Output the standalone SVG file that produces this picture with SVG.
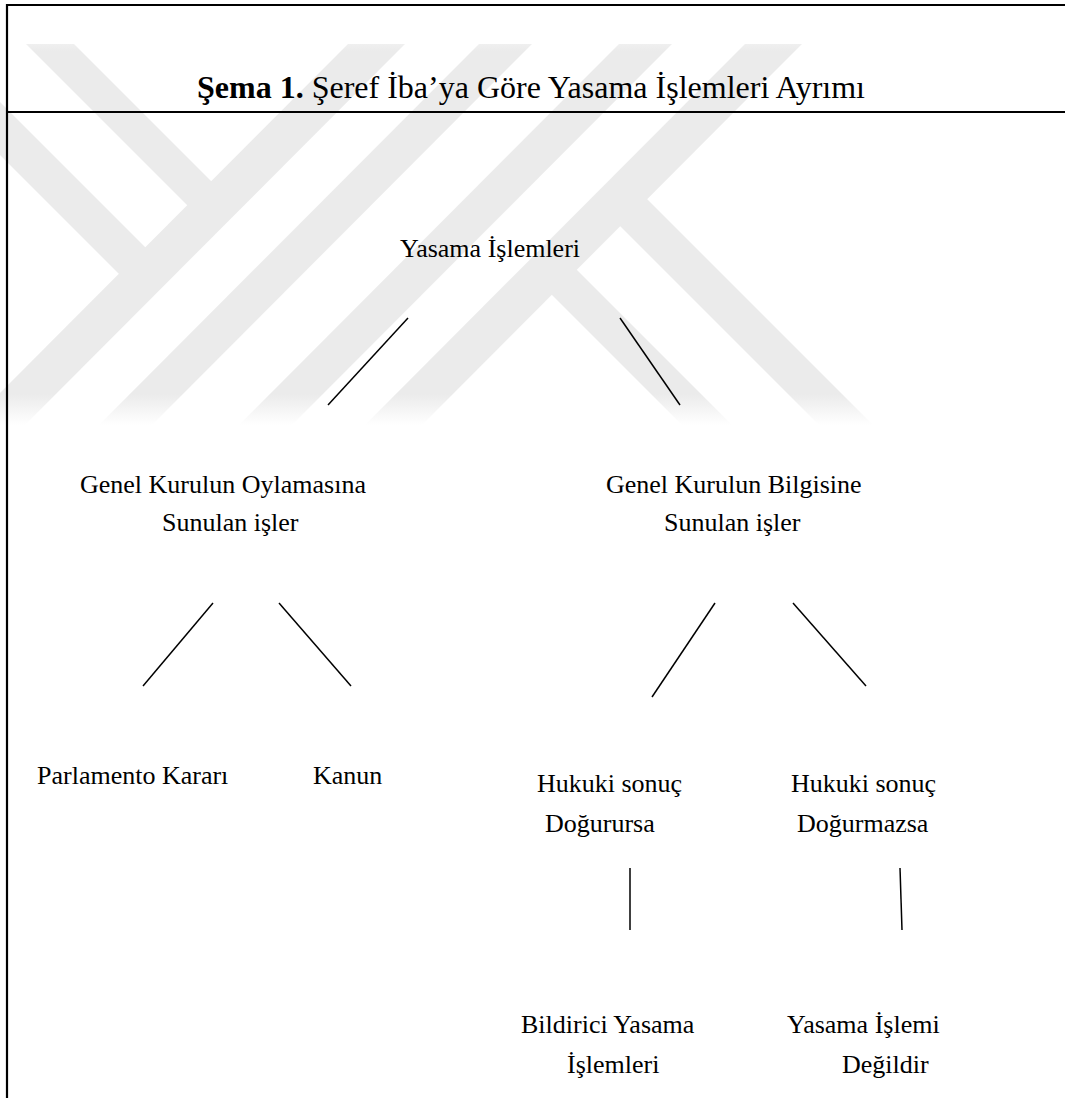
<svg xmlns="http://www.w3.org/2000/svg" width="1065" height="1098" viewBox="0 0 1065 1098">
<style>
  .t { font-family: "Liberation Serif", "Times New Roman", serif; font-size: 26px; fill: #000; }
  .title { font-family: "Liberation Serif", "Times New Roman", serif; font-size: 32px; fill: #000; }
  .b { font-weight: bold; }
  .frame { stroke: #000; stroke-width: 2.2; fill: none; }
  .conn { stroke: #000; stroke-width: 1.5; fill: none; }
</style>
<defs>
  <linearGradient id="wmFade" gradientUnits="userSpaceOnUse" x1="0" y1="40" x2="0" y2="425">
    <stop offset="0" stop-color="#f2f2f2"/>
    <stop offset="0.03" stop-color="#ebebeb"/>
    <stop offset="0.92" stop-color="#ebebeb"/>
    <stop offset="1" stop-color="#ffffff"/>
  </linearGradient>
  <clipPath id="wmClip"><rect x="0" y="44" width="1065" height="381"/></clipPath>
</defs>
<rect x="0" y="0" width="1065" height="1098" fill="#ffffff"/>
<g id="watermark" clip-path="url(#wmClip)" fill="url(#wmFade)">
  <path d="M348 44 L405 44 L25 425 L-32 425 Z"/>
  <path d="M479 44 L532 44 L152 425 L99 425 Z"/>
  <path d="M619 44 L672 44 L292 425 L239 425 Z"/>
  <path d="M745 44 L802 44 L422 425 L365 425 Z"/>
  <path d="M26 44 L74 44 L225 195 L201 219 Z"/>
  <path d="M0 102 L159 261 L132.5 287.5 L0 155 Z"/>
  <path d="M563.5 256.5 L732 425 L682 425 L538.5 281.5 Z"/>
  <path d="M634 186 L873 425 L819 425 L607 213 Z"/>
</g>
<g id="frame" class="frame">
  <line x1="6" y1="5" x2="1065" y2="5"/>
  <line x1="6" y1="112" x2="1065" y2="112"/>
  <line x1="7" y1="4" x2="7" y2="1098"/>
</g>
<g id="title">
  <text class="title" x="197" y="98"><tspan class="b">Şema 1.</tspan> Şeref İba’ya Göre Yasama İşlemleri Ayrımı</text>
</g>
<g id="connectors" class="conn">
  <line x1="408" y1="318" x2="328" y2="405"/>
  <line x1="620" y1="318" x2="680" y2="405"/>
  <line x1="213" y1="603" x2="143" y2="686"/>
  <line x1="279" y1="603" x2="351" y2="686"/>
  <line x1="715" y1="603" x2="652" y2="697"/>
  <line x1="793" y1="603" x2="866" y2="686"/>
  <line x1="630" y1="868" x2="630" y2="930"/>
  <line x1="900" y1="868" x2="902" y2="930"/>
</g>
<g id="node-yasama-islemleri">
  <text class="t" x="400" y="257">Yasama İşlemleri</text>
</g>
<g id="node-oylama">
  <text class="t" x="80" y="493">Genel Kurulun Oylamasına</text>
  <text class="t" x="162" y="531">Sunulan işler</text>
</g>
<g id="node-bilgi">
  <text class="t" x="606" y="493">Genel Kurulun Bilgisine</text>
  <text class="t" x="664" y="531">Sunulan işler</text>
</g>
<g id="node-parlamento-karari">
  <text class="t" x="37" y="784">Parlamento Kararı</text>
</g>
<g id="node-kanun">
  <text class="t" x="313" y="784">Kanun</text>
</g>
<g id="node-dogurursa">
  <text class="t" x="537" y="792">Hukuki sonuç</text>
  <text class="t" x="545" y="832">Doğurursa</text>
</g>
<g id="node-dogurmazsa">
  <text class="t" x="791" y="792">Hukuki sonuç</text>
  <text class="t" x="797" y="832">Doğurmazsa</text>
</g>
<g id="node-bildirici">
  <text class="t" x="521" y="1033">Bildirici Yasama</text>
  <text class="t" x="567" y="1073">İşlemleri</text>
</g>
<g id="node-degildir">
  <text class="t" x="787" y="1033">Yasama İşlemi</text>
  <text class="t" x="842" y="1073">Değildir</text>
</g>
</svg>
